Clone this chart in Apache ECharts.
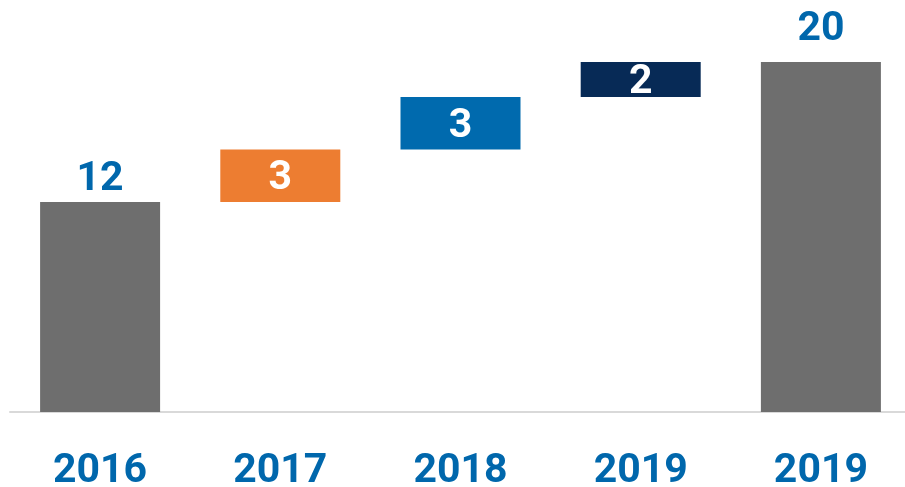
<!DOCTYPE html>
<html>
<head>
<meta charset="utf-8">
<style>
  html, body { margin: 0; padding: 0; background: #fff; }
  #chart { width: 905px; height: 487px; }
</style>
<script src="https://cdn.jsdelivr.net/npm/echarts@6/dist/echarts.min.js"></script>
</head>
<body>
<div id="chart"></div>
<script>
const categories = ["2016", "2017", "2018", "2019", "2019"];
const barValues = [12, 3, 3, 2, 20];
const baseValues = [0, 12, 15, 18, 0];
const barColors = ["#6e6e6e", "#ed7d31", "#006aae", "#072a56", "#6e6e6e"];
const isTotal = [true, false, false, false, true];
const labelGap = [0, 0, 0, 0, 10];

const FONT = "Roboto, sans-serif";
const BLUE = "#0067ac";

const chart = echarts.init(document.getElementById("chart"));

const stepData = barValues.map((v, i) => ({
  value: v,
  itemStyle: { color: barColors[i] },
  label: isTotal[i]
    ? { position: "top", color: BLUE, distance: labelGap[i] }
    : { position: "inside", color: "#fff", offset: [0, 3] },
}));

chart.setOption({
  animation: false,
  grid: { left: 10, width: 901, top: 62, bottom: 75, outerBoundsMode: "none", containLabel: false },
  xAxis: {
    type: "category",
    data: categories,
    axisTick: { show: false },
    axisLine: { lineStyle: { color: "#d9d9d9", width: 2 } },
    axisLabel: {
      color: BLUE,
      fontFamily: FONT,
      fontWeight: "bold",
      fontSize: 41,
      lineHeight: 44,
      margin: 38,
    },
  },
  yAxis: {
    type: "value",
    min: 0,
    max: 20,
    show: false,
    splitLine: { show: false },
  },
  series: [
    {
      type: "bar",
      stack: "fall",
      barWidth: 120,
      data: baseValues,
      itemStyle: { color: "transparent" },
      silent: true,
    },
    {
      type: "bar",
      stack: "fall",
      barWidth: 120,
      data: stepData,
      label: {
        show: true,
        fontFamily: FONT,
        fontWeight: "bold",
        fontSize: 41,
        lineHeight: 44,
      },
    },
  ],
});
</script>
</body>
</html>
